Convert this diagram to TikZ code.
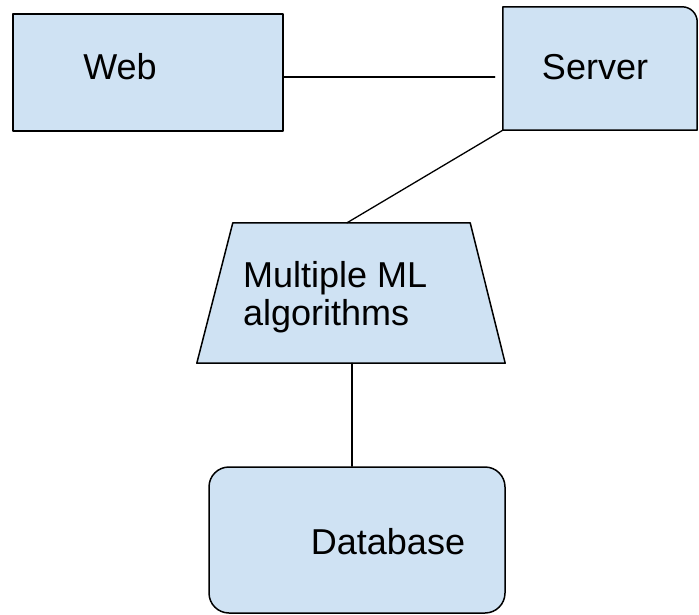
\documentclass[tikz,border=0pt]{standalone}
\usepackage{fontspec}
\setmainfont{Liberation Sans}
\usepackage{tikz}
\usetikzlibrary{calc}
\definecolor{cfe2f3}{rgb}{0.8117647058823529,0.8862745098039215,0.9529411764705882}
\tikzstyle{every node}=[font=\fontsize{36}{38}\selectfont]
\tikzstyle{blok}=[draw=black,line width=1.5pt,fill=cfe2f3,inner sep=0pt]
\tikzstyle{holder}=[inner sep=0pt]

\begin{document}
\begin{tikzpicture}[line cap=round,line join=round,x=1.0pt,y=-1.0pt]
\clip(0,0) rectangle (699,615);
% boxes
\node[blok,minimum width=270pt,minimum height=117pt] (web) at (148,72.5) {};
\node[holder,minimum width=194pt,minimum height=123pt] (server) at (600,68.5) {};
\draw[line width=1.5pt,fill=cfe2f3] (server.south west) -- (server.north west) -- ($(server.north east)+(-15,0)$) arc[start angle=90,end angle=0,radius=15pt] -- (server.south east) -- cycle;
\node[holder,minimum width=308pt,minimum height=140pt] (ml) at (351,293) {};
\draw[line width=1.5pt,fill=cfe2f3] (ml.south west) -- ($(ml.north west)+(36,0)$) -- ($(ml.north east)+(-35,0)$) -- (ml.south east) -- cycle;
\node[blok,rounded corners=20pt,minimum width=296pt,minimum height=146pt] (db) at (357,540) {};
% texts
\node[anchor=base] (webtxt) at (120,80) {Web};
\node[anchor=base] (servertxt) at (595,80) {Server};
\node[anchor=base west,align=left,inner sep=0pt] (mltxt) at (243,325) {Multiple ML\\algorithms};
\node[anchor=base] (dbtxt) at (388,554) {Database};
% links
\draw[line width=1.3pt,shorten >=8pt] ([yshift=-4.5pt]web.east) -- ([yshift=-4.5pt]web.east -| server.west);
\draw[line width=1.3pt] (server.south west) -- ([xshift=-4pt]ml.north);
\draw[line width=1.3pt] ([xshift=1pt]ml.south) -- ([xshift=1pt]ml.south |- db.north);
\end{tikzpicture}
\end{document}
